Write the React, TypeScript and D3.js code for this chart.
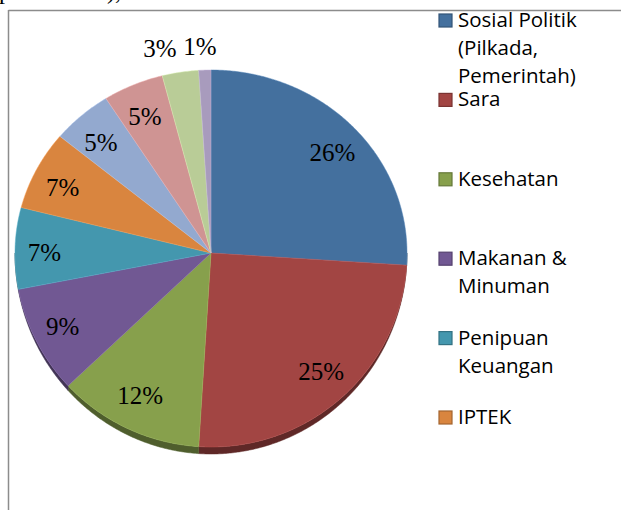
import React from "react";
import * as d3 from "d3";

const values = [26, 25, 12, 9, 7, 7, 5, 5, 3, 1];
const percentLabels = ["26%", "25%", "12%", "9%", "7%", "7%", "5%", "5%", "3%", "1%"];
const colors = ["#44709e", "#a24543", "#87a04c", "#715893", "#4497ae", "#d9853f", "#93a9cf", "#cf9493", "#b9cc97", "#a89bbd"];
const legendLines = [
  ["Sosial Politik", "(Pilkada,", "Pemerintah)"],
  ["Sara"],
  ["Kesehatan"],
  ["Makanan &", "Minuman"],
  ["Penipuan", "Keuangan"],
  ["IPTEK"],
];

const W = 621, H = 510;
const cx = 211, cy = 253, rx = 196, ryTop = 183, ryBot = 194, depth = 7;

function proj(theta: number, r = 1): [number, number] {
  const c = Math.cos(theta);
  const ry = c > 0 ? ryTop : ryBot;
  return [cx + rx * r * Math.sin(theta), cy - ry * r * c];
}

function sample(a0: number, a1: number): number[] {
  const n = Math.max(2, Math.ceil((a1 - a0) / (Math.PI / 360)));
  return d3.range(n + 1).map((i) => a0 + ((a1 - a0) * i) / n);
}

export default function App() {
  const arcs = d3.pie<number>().sort(null).value((d) => d).startAngle(0).endAngle(2 * Math.PI)(values);
  const line = d3.line();

  const walls = arcs.map((a, i) => {
    const s = Math.max(a.startAngle, Math.PI / 2);
    const e = Math.min(a.endAngle, (3 * Math.PI) / 2);
    if (e <= s) return null;
    const ths = sample(s, e);
    const top = ths.map((t) => proj(t));
    const bot = ths.map((t) => {
      const p = proj(t);
      return [p[0], p[1] + depth * Math.max(0, -Math.cos(t))] as [number, number];
    }).reverse();
    const c = d3.color(colors[i])!.darker(1.5).formatHex();
    return <path key={"w" + i} d={line([...top, ...bot])! + "Z"} fill={c} stroke={c} strokeWidth={0.5} />;
  });

  const slices = arcs.map((a, i) => {
    const pts = [[cx, cy] as [number, number], ...sample(a.startAngle, a.endAngle).map((t) => proj(t))];
    const stroke = d3.color(colors[i])!.brighter(0.4).formatHex();
    return <path key={"s" + i} d={line(pts)! + "Z"} fill={colors[i]} stroke={stroke} strokeWidth={0.6} strokeOpacity={0.8} />;
  });

  const labelNodes: React.ReactNode[] = [];
  const outside: { i: number; x: number; y: number }[] = [];
  arcs.forEach((a, i) => {
    const m = (a.startAngle + a.endAngle) / 2;
    if (a.value >= 5) {
      const x = cx + rx * 0.85 * Math.sin(m);
      const y = 257 - 189 * 0.81 * Math.cos(m);
      labelNodes.push(
        <text key={"l" + i} x={x} y={y} dy="0.34em" textAnchor="middle" fontFamily="'Liberation Serif', 'Times New Roman', serif" fontSize={25} fill="#000">
          {percentLabels[i]}
        </text>
      );
    } else {
      const x = cx + rx * 1.14 * Math.sin(m);
      const y = cy - ryTop * 1.13 * Math.cos(m);
      outside.push({ i, x, y });
    }
  });
  outside.sort((a, b) => b.x - a.x);
  for (let k = 1; k < outside.length; k++) {
    if (outside[k - 1].x - outside[k].x < 40) outside[k].x = outside[k - 1].x - 40;
  }
  outside.forEach(({ i, x, y }) => {
    labelNodes.push(
      <text key={"o" + i} x={x - 4} y={y} dy="0.34em" textAnchor="middle" fontFamily="'Liberation Serif', 'Times New Roman', serif" fontSize={25} fill="#000">
        {percentLabels[i]}
      </text>
    );
  });

  const legendY = d3.scaleLinear().domain([0, 5]).range([27, 424]);

  return (
    <svg width={W} height={H} style={{ position: "absolute", left: 0, top: 0, background: "#fff" }}>
      <rect x={0} y={0} width={W} height={H} fill="#fff" />
      <text x={-1} y={-1} fontFamily="'Liberation Serif', serif" fontSize={24} fill="#000">pemerintah),</text>
      <line x1={8.5} y1={10.5} x2={W} y2={10.5} stroke="#8c8c8c" strokeWidth={1.5} />
      <line x1={8.5} y1={10} x2={8.5} y2={H} stroke="#8c8c8c" strokeWidth={1.5} />
      {walls}
      {slices}
      {labelNodes}
      {legendLines.map((lines, i) => {
        const by = legendY(i);
        const stroke = d3.color(colors[i])!.darker(0.8).formatHex();
        return (
          <g key={"g" + i}>
            <rect x={439} y={by - 13} width={13} height={13} fill={colors[i]} stroke={stroke} strokeWidth={1.2} />
            {lines.map((t, j) => (
              <text key={j} x={458} y={by + j * 28} fontFamily="'Open Sans', 'Noto Sans', sans-serif" fontSize={20.5} fill="#000">
                {t}
              </text>
            ))}
          </g>
        );
      })}
    </svg>
  );
}
